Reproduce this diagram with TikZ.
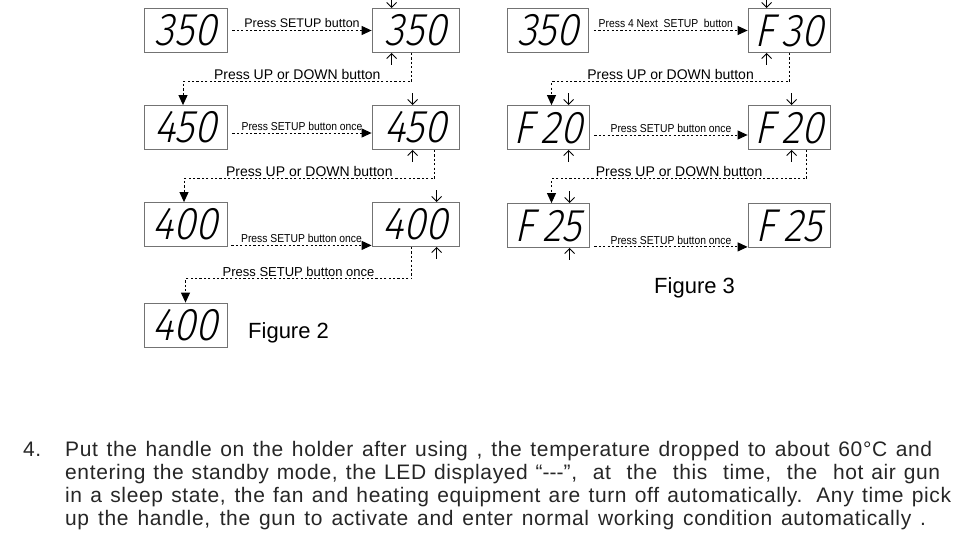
\documentclass[tikz,border=0pt]{standalone}
\usepackage{fontspec}
\setmainfont{Liberation Sans}
\newfontfamily\ledfont[FakeSlant=0.22,FakeStretch=0.88]{Fira Sans Light}
\newfontfamily\narrowfont[FakeStretch=0.9]{Liberation Sans}
\newfontfamily\parafont[LetterSpace=3]{Liberation Sans}
\usepackage{tikz}
\usetikzlibrary{arrows.meta,positioning}

\begin{document}
\begin{tikzpicture}[x=1pt, y=-1pt,
    ledbox/.style={draw=black!55, line width=0.8pt, minimum height=44pt, inner sep=0pt,
        font=\ledfont\fontsize{46}{46}\selectfont},
    flow/.style={line width=1pt, dash pattern=on 2.2pt off 2.2pt, -{Triangle[length=10pt,width=9pt]}},
    blink/.style={line width=0.9pt, -{Straight Barb[length=5pt,width=10pt]}},
    steplbl/.style={font=\narrowfont\fontsize{11.5}{12}\selectfont, inner sep=1pt},
    keylbl/.style={font=\fontsize{14}{15}\selectfont, inner sep=1pt},
    figlbl/.style={font=\fontsize{22}{23}\selectfont, anchor=base west, inner sep=0pt},
    para/.style={font=\parafont\fontsize{21}{22}\selectfont, color=black!85, anchor=base west, inner sep=0pt}]
        \useasboundingbox (0,0) rectangle (957,546);

        % Figure 2 displays
        \node[ledbox, minimum width=83pt] (A1) at (185.5,30.5) {350};
        \node[ledbox, minimum width=87pt] (A2) at (415.5,30.5) {350};
        \node[ledbox, minimum width=83pt] (B1) at (185.5,127.5) {450};
        \node[ledbox, minimum width=87pt] (B2) at (415.5,127.5) {450};
        \node[ledbox, minimum width=83pt] (C1) at (185.5,224.5) {400};
        \node[ledbox, minimum width=87pt] (C2) at (415.5,224.5) {400};
        \node[ledbox, minimum width=83pt] (D1) at (185.5,325) {400};
        \node[figlbl] (fig2) at (248,338) {Figure 2};

        % Figure 2 steps
        \draw[flow] ([xshift=5pt]A1.east) -- node[steplbl, font=\fontsize{12.5}{13}\selectfont, above=1pt] {Press SETUP button} (A2.west);
        \draw[flow] ([xshift=40pt]A2.south west) -- ++(0,29)
            -| node[keylbl, pos=0.25, above=1pt] {Press UP or DOWN button} ([xshift=-2.5pt]B1.north);
        \draw[flow] ([xshift=5pt, yshift=-5.5pt]B1.east) -- node[steplbl, above=1pt] {Press SETUP button once} ([yshift=-5.5pt]B2.west);
        \draw[flow] ([xshift=63pt]B2.south west) -- ++(0,29)
            -| node[keylbl, pos=0.25, above=1pt] {Press UP or DOWN button} ([xshift=-1.5pt]C1.north);
        \draw[flow] ([xshift=4pt, yshift=1.5pt]C1.south east) -- node[steplbl, above=1pt] {Press SETUP button once} ([yshift=1.5pt]C2.south west);
        \draw[flow] ([xshift=40pt]C2.south west) -- ++(0,32)
            -| node[keylbl, font=\fontsize{13}{14}\selectfont, pos=0.25, above=1pt] {Press SETUP button once} (D1.north);

        % Figure 3 displays
        \node[ledbox, minimum width=81pt] (E1) at (548,30.5) {350};
        \node[ledbox, minimum width=82pt] (E2) at (789,30.5) {F\,30};
        \node[ledbox, minimum width=82pt] (F1) at (548,127.5) {F\,20};
        \node[ledbox, minimum width=82pt] (F2) at (789,127.5) {F\,20};
        \node[ledbox, minimum width=82pt] (G1) at (548,225.5) {F\,25};
        \node[ledbox, minimum width=82pt] (G2) at (789,225.5) {F\,25};
        \node[figlbl] (fig3) at (654,293) {Figure 3};

        % Figure 3 steps
        \draw[flow] ([xshift=5pt]E1.east) -- node[steplbl, above=1pt, xshift=-5pt] {Press 4 Next\ \ SETUP\ \ button} (E2.west);
        \draw[flow] ([xshift=42pt]E2.south west) -- ++(0,29)
            -| node[keylbl, pos=0.25, above=1pt] {Press UP or DOWN button} ([xshift=3.5pt]F1.north);
        \draw[flow] ([xshift=5pt, yshift=-7.5pt]F1.east) -- node[steplbl, above=1pt] {Press SETUP button once} ([yshift=-7.5pt]F2.west);
        \draw[flow] ([xshift=59pt]F2.south west) -- ++(0,29)
            -| node[keylbl, pos=0.25, above=1pt] {Press UP or DOWN button} ([xshift=3.5pt]G1.north);
        \draw[flow] ([xshift=5pt, yshift=1pt]G1.south east) -- node[steplbl, above=1pt] {Press SETUP button once} ([yshift=1pt]G2.south west);

        % blinking digit marks
        \foreach \n/\dx in {A2/20, B2/41, C2/65, E2/19, F1/62, F2/44, G1/63} {
            \draw[blink] ([xshift=\dx pt]\n.north west) ++(0,-12) -- ++(0,12);
            \draw[blink] ([xshift=\dx pt]\n.south west) ++(0,12) -- ++(0,-12);
        }

        % Note 4
        \node[para] (num) at (23,456) {4.};
        \node[para] (l1) at (65,456) {\makebox[867pt][s]{Put the handle on the holder after using , the temperature dropped to about 60°C and}};
        \node[para] (l2) at (65,479) {\makebox[875pt][s]{entering the standby mode, the LED displayed “\mbox{-}\mbox{-}\mbox{-}”,\ \ at\ \ the\ \ this\ \ time,\ \ the\ \ hot air gun}};
        \node[para] (l3) at (65,502) {\makebox[886pt][s]{in a sleep state, the fan and heating equipment are turn off automatically. Any time pick}};
        \node[para] (l4) at (65,525) {\makebox[861pt][s]{up the handle, the gun to activate and enter normal working condition automatically .}};
    \end{tikzpicture}
\end{document}
